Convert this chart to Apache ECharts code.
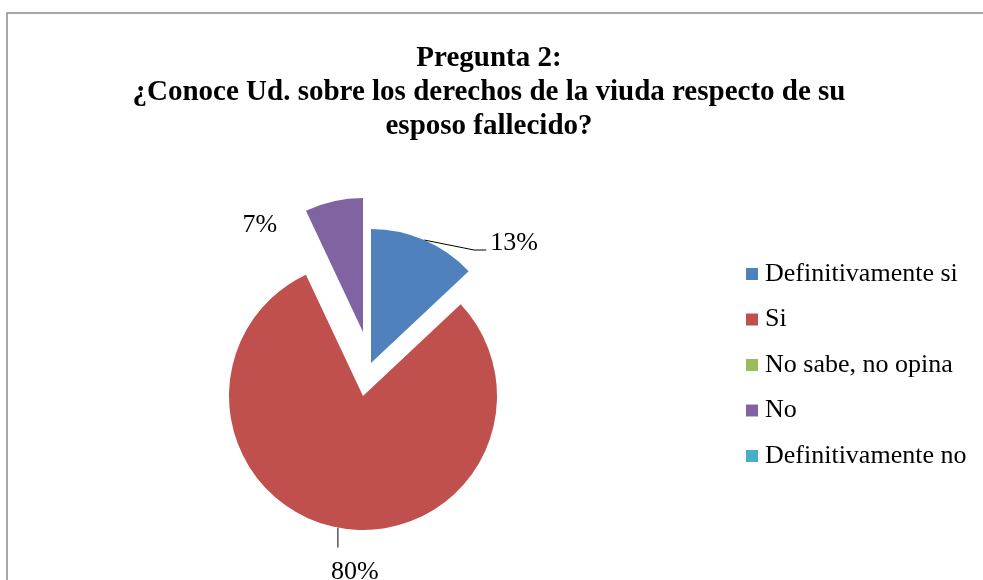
<!DOCTYPE html>
<html>
<head>
<meta charset="utf-8">
<script src="https://cdn.jsdelivr.net/npm/echarts@6/dist/echarts.min.js"></script>
<style>
  html, body { margin: 0; padding: 0; background: #fff; }
  #chart { width: 983px; height: 580px; }
</style>
</head>
<body>
<div id="chart"></div>
<script>
// datos de la pregunta 2
var categorias = ['Definitivamente si', 'Si', 'No sabe, no opina', 'No', 'Definitivamente no'];
var porcentajes = [13, 80, 0, 7, 0];
var colores = ['#4F81BD', '#C0504D', '#9BBB59', '#8064A2', '#4BACC6'];

var chart = echarts.init(document.getElementById('chart'));
var fuente = '"Liberation Serif", "Times New Roman", serif';

// cada porción separada se dibuja en su propia serie (el resto transparente)
function datosPara(idx, linea) {
  return categorias.map(function (nombre, i) {
    return {
      name: nombre,
      value: porcentajes[i],
      itemStyle: { color: i === idx ? colores[i] : 'rgba(0,0,0,0)' },
      label: { show: i === idx },
      labelLine: { show: i === idx && linea }
    };
  });
}

function serie(idx, centro, layout, linea) {
  return {
    name: 'Pregunta 2',
    type: 'pie',
    center: centro,
    radius: 134,
    startAngle: 90,
    avoidLabelOverlap: false,
    silent: true,
    itemStyle: { borderWidth: 0 },
    emphasis: { disabled: true },
    label: {
      position: 'outside',
      formatter: '{c}%',
      color: '#000',
      fontFamily: fuente,
      fontSize: 26
    },
    labelLine: {
      length: 15,
      length2: 10,
      lineStyle: { color: '#000', width: 1 }
    },
    labelLayout: layout,
    data: datosPara(idx, linea)
  };
}

var option = {
  animation: false,
  title: {
    text: 'Pregunta 2:\n¿Conoce Ud. sobre los derechos de la viuda respecto de su\nesposo fallecido?',
    left: 484,
    textAlign: 'center',
    top: 37,
    textStyle: {
      fontFamily: fuente,
      fontWeight: 'bold',
      fontSize: 29,
      lineHeight: 34,
      color: '#000'
    }
  },
  legend: {
    orient: 'vertical',
    left: 746,
    top: 261,
    padding: 0,
    icon: 'rect',
    itemWidth: 12,
    itemHeight: 12,
    itemGap: 19.5,
    selectedMode: false,
    textStyle: { fontFamily: fuente, fontSize: 26, color: '#000', lineHeight: 26, padding: [0, 0, 0, 2] },
    data: categorias.map(function (n, i) {
      return { name: n, itemStyle: { color: colores[i] } };
    })
  },
  graphic: [{
    type: 'rect',
    shape: { x: 7, y: 13, width: 1000, height: 600 },
    style: { fill: 'none', stroke: '#8c8c8c', lineWidth: 1.5 },
    silent: true
  }],
  series: [
    // Si
    serie(1, [363, 396], function (p) {
      var a = p.labelLinePoints ? p.labelLinePoints[0] : [338, 529];
      return {
        x: a[0] + 17, y: a[1] + 45, align: 'center', verticalAlign: 'middle',
        labelLinePoints: [a, [a[0], a[1] + 20]]
      };
    }, true),
    // Definitivamente si
    serie(0, [371, 363], function (p) {
      var a = p.labelLinePoints ? p.labelLinePoints[0] : [424, 240];
      return {
        x: a[0] + 66, y: a[1] + 3, align: 'left', verticalAlign: 'middle',
        labelLinePoints: [a, [a[0] + 50, a[1] + 10], [a[0] + 62, a[1] + 10]]
      };
    }, true),
    // No
    serie(3, [363, 332], function (p) {
      var a = p.labelLinePoints ? p.labelLinePoints[0] : [334, 201];
      return {
        x: a[0] - 74, y: a[1] + 24, align: 'center', verticalAlign: 'middle'
      };
    }, false)
  ]
};

chart.setOption(option);
</script>
</body>
</html>
